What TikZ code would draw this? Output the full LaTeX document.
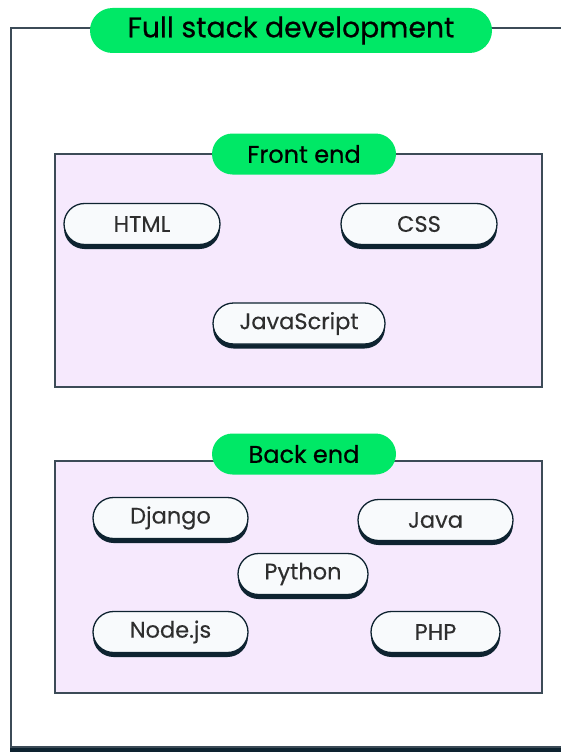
\documentclass[tikz,border=0pt]{standalone}
\usepackage{fontspec}
\setmainfont{Poppins}
\newfontfamily\hdfont[FakeBold=0.6]{Poppins}
\newfontfamily\pillfont[FakeBold=0.25]{Poppins}
\usetikzlibrary{shapes.misc,shadows}
\definecolor{grn}{HTML}{00E866}
\definecolor{lav}{HTML}{F6E9FD}
\definecolor{edge}{HTML}{3C4B57}
\definecolor{dk}{HTML}{0E2330}
\definecolor{pillfill}{HTML}{F8FAFC}
\definecolor{txt}{HTML}{2E2E2E}
\tikzset{
  header/.style={rounded rectangle, fill=grn, minimum height=41pt, inner sep=0pt, font=\hdfont\fontsize{24}{27}\selectfont, text=black},
  section/.style={draw=edge, line width=1.2pt, fill=lav},
  tech/.style={rounded rectangle, draw=dk, line width=1.3pt, fill=pillfill, minimum height=41pt, inner sep=0pt,
    font=\pillfont\fontsize{22.5}{25}\selectfont, text=txt,
    drop shadow={shadow xshift=0pt, shadow yshift=-4.5pt, fill=dk, opacity=1}},
}
\begin{document}
\begin{tikzpicture}[x=1pt,y=-1pt]
\useasboundingbox (0,0) rectangle (561,752);
\fill[white] (0,0) rectangle (561,752);
% outer frame
\coordinate (tl) at (11,28);
\coordinate (tr) at (561,28);
\coordinate (bl) at (11,747);
\coordinate (br) at (561,747);
\draw[edge, line width=1.2pt] (tr) -- (tl) -- (bl) -- (br);
\fill[dk] (10.4,748) rectangle (561,752);
% title
\node[header, minimum width=402pt, minimum height=45pt, font=\hdfont\fontsize{28.3}{31}\selectfont] (title) at (291,30.5) {Full stack development};
% front end
\draw[section] (55,154) rectangle (542,387);
\node[header, minimum width=184pt] (fe) at (304,154) {Front end};
\node[tech, minimum width=156pt] (html) at (142,224) {HTML};
\node[tech, minimum width=156pt] (css) at (419,224) {CSS};
\node[tech, minimum width=172pt] (js) at (299,323.5) {JavaScript};
% back end
\draw[section] (55,461) rectangle (542,693);
\node[header, minimum width=184pt] (be) at (304,454) {Back end};
\node[tech, minimum width=155pt] (django) at (170.5,518) {Django};
\node[tech, minimum width=155pt] (java) at (435.5,520) {Java};
\node[tech, minimum width=130pt] (python) at (303,574) {Python};
\node[tech, minimum width=155pt] (node) at (170.5,632) {Node.js};
\node[tech, minimum width=129pt] (php) at (435.5,632) {PHP};
\end{tikzpicture}
\end{document}
